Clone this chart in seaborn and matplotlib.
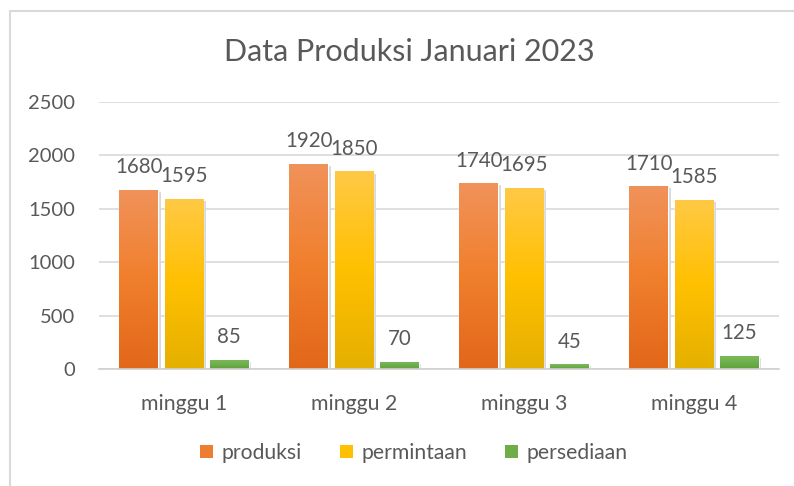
import numpy as np
import pandas as pd
import seaborn as sns
import matplotlib.pyplot as plt
from matplotlib.patches import Patch, Rectangle
from matplotlib.transforms import ScaledTranslation
from matplotlib.colors import LinearSegmentedColormap

minggu = ["minggu 1", "minggu 2", "minggu 3", "minggu 4"]
produksi = [1680, 1920, 1740, 1710]
permintaan = [1595, 1850, 1695, 1585]
persediaan = [85, 70, 45, 125]
series = ["produksi", "permintaan", "persediaan"]

# gradient colours (top, middle, bottom) per series, like excel fill
grad = {
    "produksi": ["#F0925A", "#F07F2C", "#E2671A"],
    "permintaan": ["#FFC945", "#FFC000", "#E5B000"],
    "persediaan": ["#7DBA5E", "#6FAF4C", "#5EA23C"],
}
solid = {"produksi": "#ED7D31", "permintaan": "#FFC000", "persediaan": "#70AD47"}

df = pd.DataFrame({"minggu": minggu * 3,
                   "jenis": [s for s in series for _ in minggu],
                   "nilai": produksi + permintaan + persediaan})

sns.set_theme(style="white")
plt.rcParams["font.family"] = ["Lato", "DejaVu Sans"]
txt = "#595959"

fig = plt.figure(figsize=(7.94, 4.86), dpi=100)
ax = fig.add_axes([99 / 794, 1 - 369 / 486, 680 / 794, 267 / 486])

sns.barplot(data=df, x="minggu", y="nilai", hue="jenis", hue_order=series,
            palette=solid, width=0.8, gap=0.15, ax=ax, legend=False,
            saturation=1)

ax.set_ylim(0, 2500)
ax.set_xlim(-0.5, 3.5)
ax.set_yticks(range(0, 2501, 500))
ax.yaxis.grid(True, color="#D9D9D9", lw=1.2)
ax.set_axisbelow(True)
for side in ["top", "right", "left"]:
    ax.spines[side].set_visible(False)
ax.spines["bottom"].set_color("#D0D0D0")
ax.spines["bottom"].set_linewidth(1.2)
ax.tick_params(axis="y", length=0, pad=17, labelsize=14.5, labelcolor=txt)
ax.tick_params(axis="x", length=0, pad=18, labelsize=15.3, labelcolor=txt)
ax.set_xlabel("")
ax.set_ylabel("")

# gradient fill + soft shadow on each bar
shift = ax.transData + ScaledTranslation(2 / 72, -1.5 / 72, fig.dpi_scale_trans)
for s, cont in zip(series, ax.containers):
    cmap = LinearSegmentedColormap.from_list(s, grad[s][::-1])
    for bar in cont:
        x0, y0 = bar.get_x(), bar.get_y()
        w, h = bar.get_width(), bar.get_height()
        ax.add_patch(Rectangle((x0, y0), w, h, transform=shift,
                               facecolor="#000000", alpha=0.15, lw=0,
                               zorder=bar.get_zorder() - 0.5))
        img = ax.imshow(np.linspace(0, 1, 100).reshape(-1, 1), cmap=cmap,
                        origin="lower", extent=[x0, x0 + w, y0, y0 + h],
                        aspect="auto", zorder=bar.get_zorder() + 0.1)
        img.set_clip_path(bar)
    ax.bar_label(cont, padding=9, fontsize=14.8, color=txt)

ax.set_xlim(-0.5, 3.5)
ax.set_ylim(0, 2500)

fig.suptitle("Data Produksi Januari 2023", x=409 / 794, y=1 - 52 / 486,
             va="center", fontsize=22, color=txt, fontweight="normal")

handles = [Patch(facecolor=solid[s], edgecolor="none") for s in series]
fig.legend(handles, series, loc="center", bbox_to_anchor=(0.521, 1 - 453 / 486),
           ncol=3, frameon=False, fontsize=15.2, labelcolor=txt,
           handlelength=0.62, handleheight=0.62, handletextpad=0.4,
           columnspacing=1.8)

# outer chart frame, only top and left edges are visible
fig.add_artist(Rectangle((10 / 794, -0.1), 1.2, 1 - 11.5 / 486 + 0.1,
                         transform=fig.transFigure, fill=False,
                         edgecolor="#D9D9D9", lw=1.5))

fig.savefig("out.png", dpi=100)
